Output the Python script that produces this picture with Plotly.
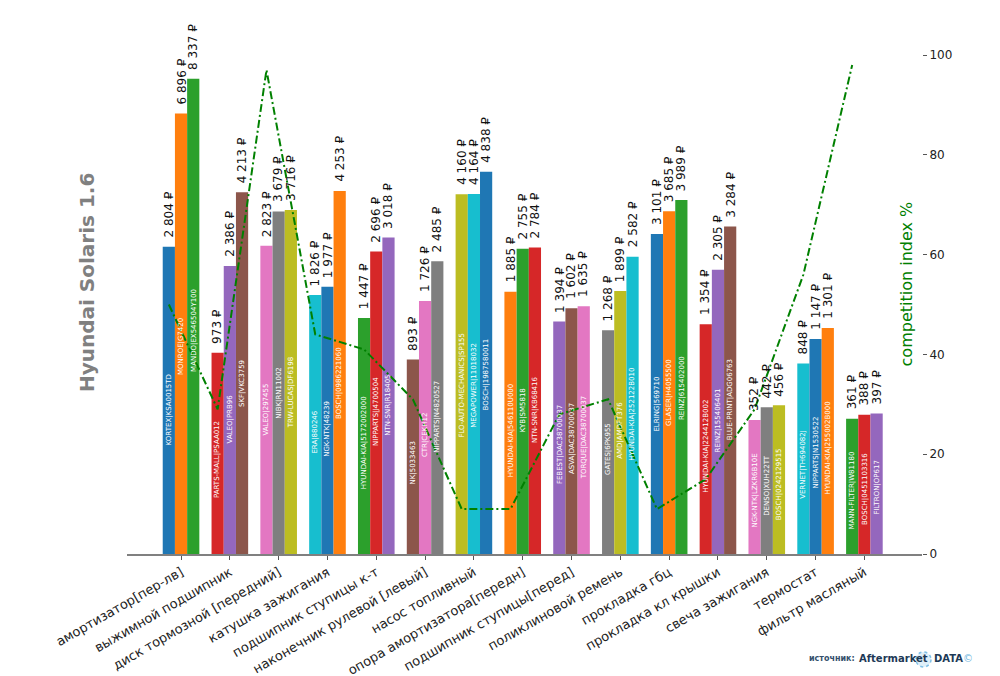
import plotly.graph_objects as go

categories = [
    "амортизатор[пер-лв]", "выжимной подшипник", "диск тормозной [передний]",
    "катушка зажигания", "подшипник ступицы к-т", "наконечник рулевой [левый]",
    "насос топливный", "опора амортизатора[передн]", "подшипник ступицы[перед]",
    "поликлиновой ремень", "прокладка гбц", "прокладка кл крышки",
    "свеча зажигания", "термостат", "фильтр масляный",
]

labels_a = [
    "KORTEX|KSA0015TD", "PARTS-MALL|PSAA012", "VALEO|297455", "ERA|880246",
    "HYUNDAI-KIA|5172002000", "NK|5033463", "FLO-AUTO-MECHANICS|SP155",
    "HYUNDAI-KIA|546110U000", "FEBEST|DAC38700037", "GATES|6PK955",
    "ELRING|569710", "HYUNDAI-KIA|224412B002", "NGK-NTK|LZKR6B10E",
    "VERNET|TH694082J", "MANN-FILTER|W81180",
]
prices_a = [2804, 973, 2823, 1826, 1447, 893, 4160, 1885, 1394, 1268, 3101, 1354, 352, 848, 361]

labels_b = [
    "MONROE|G7420", "VALEO|PRB96", "NIBK|RN11002", "NGK-NTK|48239",
    "NIPPARTS|J4700504", "CTR|CEKH12", "MEGAPOWER|11018032", "KYB|SM5818",
    "ASVA|DAC38700037", "AMD|AMDFT376", "GLASER|H4055500", "REINZ|155406401",
    "DENSO|XUH22TT", "NIPPARTS|N1530522", "BOSCH|0451103316",
]
prices_b = [6896, 2386, 3679, 1977, 2696, 1726, 4164, 2755, 1602, 1899, 3685, 2305, 442, 1147, 388]

labels_c = [
    "MANDO|EX546504Y100", "SKF|VKC3759", "TRW-LUCAS|DF6198", "BOSCH|0986221060",
    "NTN-SNR|R18405", "NIPPARTS|N4820527", "BOSCH|1987580011", "NTN-SNR|KB68416",
    "TORQUE|DAC38700037", "HYUNDAI-KIA|252122B010", "REINZ|615402000",
    "BLUE-PRINT|ADG06763", "BOSCH|0242129515", "HYUNDAI-KIA|255002B000",
    "FILTRON|OP617",
]
prices_c = [8337, 4213, 3716, 4253, 3018, 2485, 4838, 2784, 1635, 2582, 3989, 3284, 456, 1301, 397]

competition = [50, 29, 97, 44, 41, 31, 9, 9, 28, 31, 9, 15, 29, 56, 98]

TAB10 = ["#1f77b4", "#ff7f0e", "#2ca02c", "#d62728", "#9467bd",
         "#8c564b", "#e377c2", "#7f7f7f", "#bcbd22", "#17becf"]
POWER = 0.4
OFFSETS = [-0.25, 0.0, 0.25]
FONT = "DejaVu Sans"

def fmt(p):
    return f"{p:,}".replace(",", " ") + " ₽"

series = [(labels_a, prices_a), (labels_b, prices_b), (labels_c, prices_c)]
n = len(categories)

fig = go.Figure()
annotations = []
ymax = 0
for j, (labels, prices) in enumerate(series):
    xs = [i + OFFSETS[j] for i in range(n)]
    ys = [p ** POWER for p in prices]
    ymax = max(ymax, max(ys))
    colors = [TAB10[(3 * i + j) % 10] for i in range(n)]
    fig.add_trace(go.Bar(
        x=xs, y=ys, width=0.25, marker=dict(color=colors, line=dict(width=0)),
        showlegend=False, hoverinfo="skip",
    ))
    for x, y, p, lab in zip(xs, ys, prices, labels):
        annotations.append(dict(
            x=x, y=y, xref="x", yref="y", text=fmt(p), textangle=-90,
            xanchor="center", yanchor="bottom", yshift=7, showarrow=False,
            font=dict(family=FONT, size=12, color="#111111"),
        ))
        annotations.append(dict(
            x=x, y=y * 0.47, xref="x", yref="y", text=lab, textangle=-90,
            xanchor="center", yanchor="middle", showarrow=False,
            font=dict(family=FONT, size=7, color="white"),
        ))

fig.add_trace(go.Scatter(
    x=[i - 0.25 for i in range(n)], y=competition, yaxis="y2", mode="lines",
    line=dict(color="#008000", width=2, dash="8px,3px,2px,3px"),
    showlegend=False, hoverinfo="skip",
))

# titles and footer
annotations.append(dict(
    xref="paper", yref="paper", x=-0.0503, y=0.543, text="<b>Hyundai Solaris 1.6</b>",
    textangle=-90, showarrow=False, xanchor="center", yanchor="middle",
    font=dict(family=FONT, size=20, color="#808080"),
))
annotations.append(dict(
    xref="paper", yref="paper", x=0.981, y=0.542, text="competition index %",
    textangle=-90, showarrow=False, xanchor="center", yanchor="middle",
    font=dict(family=FONT, size=16, color="#008000"),
))
annotations.append(dict(
    xref="paper", yref="paper", x=(807 - 127) / 795, y=(554 - 659) / 499,
    text="<b>источник:</b>", showarrow=False, xanchor="left", yanchor="middle",
    font=dict(family=FONT, size=8, color="#34506c"),
))
annotations.append(dict(
    xref="paper", yref="paper", x=(857 - 127) / 795, y=(554 - 659) / 499,
    text="<b>Aftermarket</b>", showarrow=False, xanchor="left", yanchor="middle",
    font=dict(family=FONT, size=10, color="#1d3956"),
))
annotations.append(dict(
    xref="paper", yref="paper", x=(932 - 127) / 795, y=(554 - 659) / 499,
    text="<b>DATA</b><span style='color:#6fb6e0'>©</span>", showarrow=False,
    xanchor="left", yanchor="middle",
    font=dict(family=FONT, size=10, color="#1d3956"),
))

shapes = [dict(
    type="circle", xref="paper", yref="paper",
    x0=(916 - 127) / 795, x1=(931 - 127) / 795,
    y0=(554 - 667) / 499, y1=(554 - 652) / 499,
    line=dict(color="#7fc0e6", width=1.5, dash="dot"), fillcolor="rgba(127,192,230,0.25)",
)]

fig.update_layout(
    width=1000, height=676,
    margin=dict(l=127, r=78, t=55, b=122, autoexpand=False),
    paper_bgcolor="white", plot_bgcolor="white",
    barmode="overlay",
    font=dict(family=FONT, color="#222222"),
    xaxis=dict(
        range=[-1.107, 15.18], tickvals=list(range(n)), ticktext=categories,
        tickangle=-30, tickfont=dict(family=FONT, size=13, color="#222222"),
        showline=True, linecolor="#808080", linewidth=1.5,
        ticks="outside", ticklen=4, tickcolor="#555555",
        showgrid=False, zeroline=False, automargin=False,
    ),
    yaxis=dict(range=[0, ymax * 1.05], visible=False, showgrid=False,
               zeroline=False, automargin=False),
    yaxis2=dict(
        overlaying="y", side="right", range=[0, 100], dtick=20,
        ticks="outside", ticklen=4, tickcolor="#555555",
        tickfont=dict(family=FONT, size=12, color="#222222"),
        showline=False, showgrid=False, zeroline=False, automargin=False,
    ),
    annotations=annotations,
    shapes=shapes,
)

fig.write_html("out.html")
